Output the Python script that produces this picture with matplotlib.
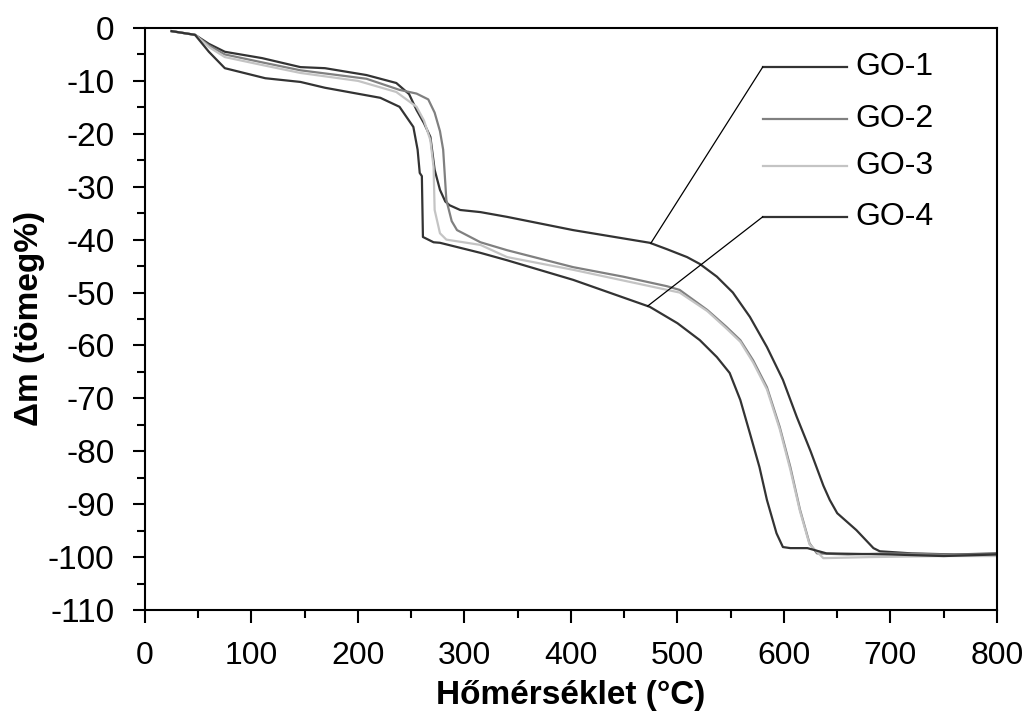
import numpy as np
import matplotlib
matplotlib.use("Agg")
import matplotlib.pyplot as plt
from matplotlib.ticker import MultipleLocator

plt.rcParams["font.family"] = ["Liberation Sans", "DejaVu Sans"]
plt.rcParams["axes.unicode_minus"] = False

# TGA mass-loss curves, temperature (°C) vs mass change (tömeg%)
T_GO1 = [25, 47, 60, 75, 110, 146, 169, 208, 236, 248, 255, 262, 268, 272, 277,
         282, 286, 296, 315, 340, 402, 474, 490, 509, 521, 537, 552, 568, 584, 599,
         612, 625, 637, 643, 650, 668, 684, 690, 720, 760, 800]
M_GO1 = [-0.6, -1.3, -3.0, -4.5, -5.7, -7.4, -7.6, -8.9, -10.4, -12.5, -15.5,
         -18.0, -20.6, -26.8, -30.6, -32.8, -33.5, -34.4, -34.8, -35.7, -38.2,
         -40.6, -41.8, -43.3, -44.6, -47.0, -50.0, -54.6, -60.3, -66.5, -73.5,
         -80.0, -86.5, -89.2, -91.7, -94.9, -98.3, -98.9, -99.3, -99.5, -99.3]

T_GO2 = [25, 47, 60, 75, 110, 146, 208, 239, 255, 266, 272, 277, 280, 283, 288,
         293, 315, 340, 402, 449, 490, 502, 528, 546, 559, 571, 584, 596, 606, 615,
         624, 631, 660, 700, 750, 800]
M_GO2 = [-0.6, -1.3, -3.3, -5.0, -6.5, -8.0, -9.6, -11.7, -12.4, -13.5, -16.0,
         -19.5, -23.0, -32.5, -36.5, -38.2, -40.5, -42.0, -45.2, -47.0, -48.8,
         -49.5, -53.3, -56.5, -59.0, -62.8, -67.9, -75.4, -83.0, -91.0, -97.4,
         -99.3, -99.5, -99.3, -99.5, -99.5]

T_GO3 = [25, 47, 60, 75, 110, 146, 200, 236, 255, 262, 268, 271, 272, 277, 283,
         315, 340, 402, 502, 528, 546, 559, 571, 584, 596, 606, 615, 624, 637, 680,
         750, 800]
M_GO3 = [-0.6, -1.3, -3.6, -5.5, -7.0, -8.5, -10.0, -12.1, -14.9, -17.5, -21.2,
         -26.3, -34.4, -38.8, -40.0, -41.0, -43.3, -45.7, -50.0, -53.5, -56.8,
         -59.3, -63.2, -68.3, -75.8, -83.5, -91.3, -97.6, -100.2, -100.0, -99.8,
         -99.8]

T_GO4 = [25, 47, 60, 75, 113, 146, 169, 221, 239, 252, 256, 258, 260, 261, 271,
         277, 315, 340, 402, 474, 500, 521, 537, 549, 559, 568, 577, 584, 593, 599,
         606, 622, 640, 700, 750, 800]
M_GO4 = [-0.6, -1.3, -4.5, -7.6, -9.5, -10.2, -11.3, -13.2, -14.9, -18.7, -23.0,
         -27.4, -28.0, -39.5, -40.5, -40.6, -42.5, -43.9, -47.6, -52.7, -55.8,
         -59.0, -62.2, -65.2, -70.3, -76.6, -83.0, -89.2, -95.5, -98.1, -98.3,
         -98.3, -99.3, -99.5, -99.8, -99.5]

LABELS = ["GO-1", "GO-2", "GO-3", "GO-4"]
COLORS = ["#333333", "#808080", "#c4c4c4", "#333333"]

# hand-placed key: sample line x-range, text x, row y values (data units)
KEY_X = (580, 659)
KEY_TEXT_X = 667
KEY_Y = [-7.4, -17.2, -26.1, -35.7]
# where the leader lines touch GO-1 and GO-4
LEADER_T = {0: 475, 3: 472}

series = [(T_GO1, M_GO1), (T_GO2, M_GO2), (T_GO3, M_GO3), (T_GO4, M_GO4)]

fig = plt.figure(figsize=(10.31, 7.17), dpi=100)
ax = fig.add_axes([0.1406, 0.1492, 0.8264, 0.8118])

for (t, m), c in zip(series, COLORS):
    ax.plot(t, m, color=c, lw=1.6)

for i, (lab, c, ky) in enumerate(zip(LABELS, COLORS, KEY_Y)):
    ax.plot(KEY_X, [ky, ky], color=c, lw=1.6)
    ax.text(KEY_TEXT_X, ky, lab, fontsize=23, va="center", ha="left")
    if i in LEADER_T:
        t, m = series[i]
        tx = LEADER_T[i]
        ax.plot([KEY_X[0], tx], [ky, np.interp(tx, t, m)], color="black", lw=0.9)

ax.set_xlim(0, 800)
ax.set_ylim(-110, 0)
ax.xaxis.set_major_locator(MultipleLocator(100))
ax.xaxis.set_minor_locator(MultipleLocator(50))
ax.yaxis.set_major_locator(MultipleLocator(10))
ax.yaxis.set_minor_locator(MultipleLocator(5))
ax.tick_params(which="major", direction="out", length=9, width=1.5,
               labelsize=23)
ax.tick_params(which="minor", direction="out", length=6, width=1.5)
ax.tick_params(axis="x", which="major", pad=13)
ax.tick_params(axis="y", which="major", pad=13, labelsize=24)
for s in ax.spines.values():
    s.set_linewidth(1.5)

ax.set_xlabel("Hőmérséklet (°C)", fontsize=24, fontweight="bold", labelpad=7)
ax.set_ylabel("Δm (tömeg%)", fontsize=24, fontweight="bold", labelpad=2)

fig.savefig("out.png", dpi=100)
